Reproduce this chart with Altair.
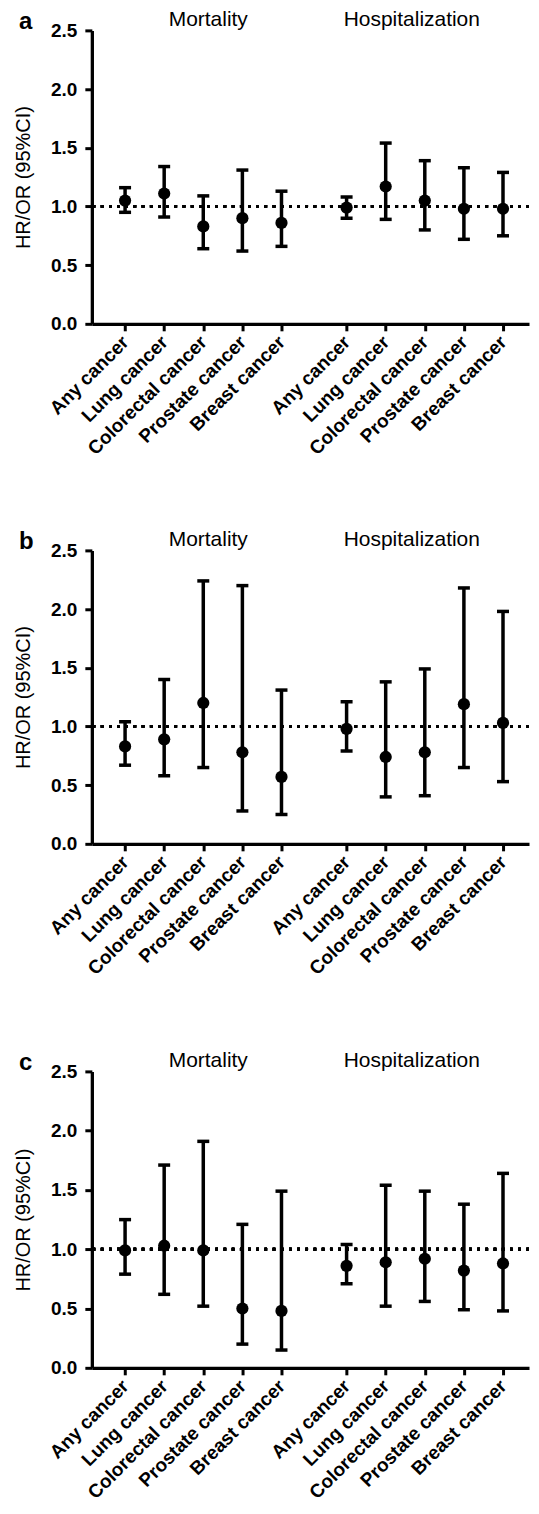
import altair as alt
import pandas as pd

categories = ["Any cancer", "Lung cancer", "Colorectal cancer", "Prostate cancer", "Breast cancer"]
groups = ["Mortality", "Hospitalization"]
panel_labels = ["a", "b", "c"]

# panel a
a_mort_est = [1.05, 1.11, 0.83, 0.90, 0.86]
a_mort_lo = [0.95, 0.91, 0.64, 0.62, 0.66]
a_mort_hi = [1.16, 1.34, 1.09, 1.31, 1.13]
a_hosp_est = [0.99, 1.17, 1.05, 0.98, 0.98]
a_hosp_lo = [0.90, 0.89, 0.80, 0.72, 0.75]
a_hosp_hi = [1.08, 1.54, 1.39, 1.33, 1.29]

# panel b
b_mort_est = [0.83, 0.89, 1.20, 0.78, 0.57]
b_mort_lo = [0.67, 0.58, 0.65, 0.28, 0.25]
b_mort_hi = [1.04, 1.40, 2.24, 2.20, 1.31]
b_hosp_est = [0.98, 0.74, 0.78, 1.19, 1.03]
b_hosp_lo = [0.79, 0.40, 0.41, 0.65, 0.53]
b_hosp_hi = [1.21, 1.38, 1.49, 2.18, 1.98]

# panel c
c_mort_est = [0.99, 1.03, 0.99, 0.50, 0.48]
c_mort_lo = [0.79, 0.62, 0.52, 0.20, 0.15]
c_mort_hi = [1.25, 1.71, 1.91, 1.21, 1.49]
c_hosp_est = [0.86, 0.89, 0.92, 0.82, 0.88]
c_hosp_lo = [0.71, 0.52, 0.56, 0.49, 0.48]
c_hosp_hi = [1.04, 1.54, 1.49, 1.38, 1.64]

y_ticks = [0.0, 0.5, 1.0, 1.5, 2.0, 2.5]

FONT = "Liberation Sans"
GAP = 0.665
N = len(categories)
XDOM = [-0.85, 10.33]


def make_panel(letter, mort, hosp, h):
    rows = []
    for g, (est, lo, hi) in enumerate([mort, hosp]):
        for i, c in enumerate(categories):
            rows.append(dict(group=groups[g], cat=c, pos=i + g * (N + GAP),
                             est=est[i], lo=lo[i], hi=hi[i]))
    df = pd.DataFrame(rows)
    pos_vals = list(df["pos"])
    names_js = "[" + ",".join("'%s'" % c for c in categories) + "]"
    label_expr = "%s[round(datum.value < %d ? datum.value : datum.value - %f)]" % (names_js, N, N + GAP)

    x_axis = alt.Axis(values=pos_vals, labelExpr=label_expr, title=None,
                      labelAngle=-45, labelAlign="right", labelBaseline="middle",
                      labelPadding=8, labelOverlap=False, labelFlush=False, grid=False)
    y_axis = alt.Axis(values=y_ticks, format=".1f", title="HR/OR (95%CI)",
                      titlePadding=17, labelPadding=8, grid=False)
    xs = alt.X("pos:Q", scale=alt.Scale(domain=XDOM, nice=False, zero=False), axis=x_axis)
    yscale = alt.Scale(domain=[0, 2.5], nice=False, zero=True)

    base = alt.Chart(df)
    ref = base.mark_rule(strokeDash=[2.6, 5.6], strokeWidth=2.8, color="black").encode(
        y=alt.datum(1.0, scale=yscale, axis=y_axis))
    bars = base.mark_rule(strokeWidth=3.5, color="black").encode(
        x=xs, y=alt.Y("lo:Q", scale=yscale, axis=y_axis), y2="hi:Q")
    cap_lo = base.mark_tick(orient="horizontal", size=12, thickness=3.5, color="black", opacity=1).encode(
        x=xs, y=alt.Y("lo:Q", scale=yscale, axis=y_axis))
    cap_hi = base.mark_tick(orient="horizontal", size=12, thickness=3.5, color="black", opacity=1).encode(
        x=xs, y=alt.Y("hi:Q", scale=yscale, axis=y_axis))
    pts = base.mark_circle(size=150, opacity=1, color="black").encode(
        x=xs, y=alt.Y("est:Q", scale=yscale, axis=y_axis))

    centers = df.groupby("group", sort=False)["pos"].mean().reset_index()
    t_mort = alt.Chart(centers[centers.group == groups[0]]).mark_text(
        font=FONT, fontSize=21, color="black", baseline="alphabetic", dx=5).encode(
        x=alt.X("pos:Q", scale=alt.Scale(domain=XDOM, nice=False, zero=False)),
        y=alt.value(-4), text="group:N")
    t_hosp = alt.Chart(centers[centers.group == groups[1]]).mark_text(
        font=FONT, fontSize=21, color="black", baseline="alphabetic", dx=-13).encode(
        x=alt.X("pos:Q", scale=alt.Scale(domain=XDOM, nice=False, zero=False)),
        y=alt.value(-4), text="group:N")
    t_letter = alt.Chart(pd.DataFrame({"t": [letter]})).mark_text(
        font=FONT, fontSize=24, fontWeight="bold", color="black", align="left",
        baseline="alphabetic").encode(x=alt.value(-73), y=alt.value(-1), text="t:N")

    return alt.layer(ref, bars, cap_lo, cap_hi, pts, t_mort, t_hosp, t_letter).properties(
        width=438, height=h)


pa = make_panel(panel_labels[0], (a_mort_est, a_mort_lo, a_mort_hi), (a_hosp_est, a_hosp_lo, a_hosp_hi), 294)
pb = make_panel(panel_labels[1], (b_mort_est, b_mort_lo, b_mort_hi), (b_hosp_est, b_hosp_lo, b_hosp_hi), 294)
pc = make_panel(panel_labels[2], (c_mort_est, c_mort_lo, c_mort_hi), (c_hosp_est, c_hosp_lo, c_hosp_hi), 297)

chart = alt.vconcat(alt.vconcat(pa, pb, spacing=71), pc, spacing=72).properties(
    padding={"left": 5, "top": 0, "right": 0, "bottom": 0},
    background="white"
).configure_view(stroke=None).configure_axis(
    domainColor="black", domainWidth=3.3, tickColor="black", tickWidth=3, tickSize=7,
    labelFont=FONT, labelFontSize=19, labelFontWeight="bold", labelColor="black",
    titleFont=FONT, titleFontSize=20, titleFontWeight="normal", titleColor="black",
    grid=False
)

chart.save("out.html", embed_options={"renderer": "svg", "actions": False})
